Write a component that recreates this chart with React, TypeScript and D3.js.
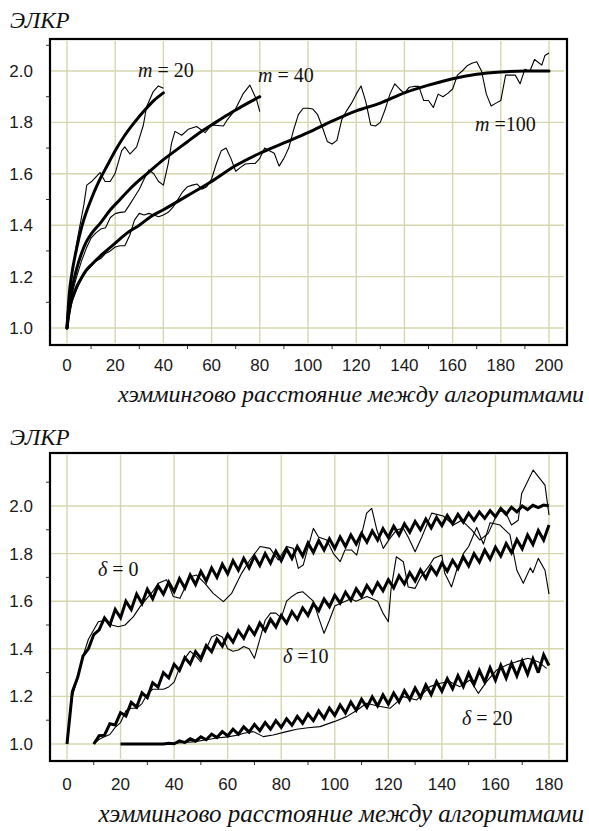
import React from "react";
import * as d3 from "d3";

// ---------- data ----------
const topXTicks = [0, 20, 40, 60, 80, 100, 120, 140, 160, 180, 200];
const botXTicks = [0, 20, 40, 60, 80, 100, 120, 140, 160, 180];
const yTicks = [1.0, 1.2, 1.4, 1.6, 1.8, 2.0];
const yMinor = [1.1, 1.3, 1.5, 1.7, 1.9, 2.1];
const topXMinor = [10, 30, 50, 70, 90, 110, 130, 150, 170, 190];
const botXMinor = [10, 30, 50, 70, 90, 110, 130, 150, 170];

const m20Thin: [number, number][] = [
  [0, 1.0], [1, 1.12], [2, 1.2], [4, 1.33], [6, 1.43], [7, 1.48], [8.2, 1.556], [10.2, 1.57],
  [13.7, 1.605], [15.8, 1.57], [17.9, 1.57], [19.9, 1.6], [22.7, 1.69], [24, 1.705], [26.1, 1.677],
  [28.9, 1.705], [31.7, 1.79], [33, 1.86], [35.8, 1.92], [37.9, 1.942], [40, 1.933],
];
const m20Smooth: [number, number][] = [
  [0, 1.0], [1, 1.14], [2, 1.21], [4, 1.31], [6, 1.39], [8, 1.45], [10, 1.5], [12, 1.545],
  [14, 1.585], [16, 1.62], [18, 1.655], [20, 1.69], [24, 1.75], [28, 1.8], [32, 1.845],
  [36, 1.885], [40, 1.915],
];
const m40Thin: [number, number][] = [
  [0, 1.0], [2, 1.13], [4, 1.2], [6, 1.26], [8, 1.31], [10, 1.35], [12, 1.37], [14, 1.385],
  [16, 1.39], [18, 1.43], [20, 1.445], [22, 1.45], [24, 1.452], [26, 1.48], [28, 1.51],
  [30, 1.54], [32, 1.58], [34, 1.615], [36, 1.6], [38, 1.57], [40, 1.556], [42, 1.64],
  [43.4, 1.72], [44.8, 1.765], [47.6, 1.75], [50.3, 1.773], [53.8, 1.784], [57.3, 1.76],
  [60, 1.79], [64.9, 1.786], [66.5, 1.81], [69.7, 1.848], [73.2, 1.913], [75.9, 1.945],
  [78.7, 1.887], [80, 1.842],
];
const m40Smooth: [number, number][] = [
  [0, 1.0], [1, 1.1], [2, 1.15], [4, 1.23], [6, 1.29], [8, 1.335], [10, 1.365], [14, 1.41],
  [18, 1.46], [22, 1.5], [26, 1.54], [30, 1.575], [35, 1.615], [40, 1.655], [45, 1.69],
  [50, 1.725], [55, 1.76], [60, 1.79], [65, 1.82], [70, 1.848], [75, 1.875], [80, 1.9],
];
const m100Thin: [number, number][] = [
  [0, 1.0], [2, 1.1], [4, 1.15], [6, 1.19], [8, 1.22], [10, 1.24], [12, 1.26], [14, 1.27],
  [16, 1.29], [18, 1.3], [20, 1.315], [22, 1.32], [24, 1.32], [26, 1.36], [28, 1.42],
  [30, 1.446], [32, 1.44], [34, 1.446], [36, 1.44], [38, 1.433], [40, 1.44], [42, 1.45],
  [44, 1.47], [46, 1.5], [48, 1.53], [50, 1.55], [52, 1.556], [54, 1.56], [56, 1.54],
  [58, 1.55], [60, 1.58], [62, 1.64], [64, 1.69], [66, 1.7], [68, 1.66], [70, 1.61],
  [72, 1.625], [74, 1.638], [76, 1.64], [78, 1.64], [80, 1.66], [82, 1.7], [84, 1.69],
  [86, 1.68], [88, 1.63], [90, 1.66], [92, 1.7], [94, 1.77], [96, 1.83], [98, 1.855],
  [100, 1.855], [102, 1.852], [104, 1.83], [106, 1.78], [108, 1.726], [110, 1.716],
  [112, 1.73], [114, 1.81], [116, 1.845], [118, 1.874], [120, 1.91], [122, 1.942],
  [124, 1.88], [126, 1.79], [128, 1.786], [130, 1.8], [132, 1.85], [134, 1.91], [136, 1.95],
  [138, 1.93], [140, 1.913], [142, 1.937], [144, 1.94], [146, 1.94], [148, 1.885],
  [150, 1.885], [152, 1.858], [154, 1.91], [156, 1.9], [158, 1.913], [160, 1.93],
  [162, 1.984], [164, 2.0], [166, 2.02], [168, 2.03], [170, 2.036], [172, 2.0], [174, 1.91],
  [176, 1.864], [178, 1.875], [180, 1.885], [182, 1.984], [184, 1.984], [186, 1.984],
  [188, 1.95], [190, 2.007], [192, 1.998], [194, 2.045], [196, 2.03], [197, 2.023],
  [198.3, 2.06], [200, 2.07],
];
const m100Smooth: [number, number][] = [
  [0, 1.0], [1, 1.07], [2, 1.11], [4, 1.16], [6, 1.195], [8, 1.225], [10, 1.245], [15, 1.29],
  [20, 1.33], [25, 1.37], [30, 1.4], [35, 1.435], [40, 1.46], [50, 1.515], [60, 1.57],
  [70, 1.632], [80, 1.68], [90, 1.72], [100, 1.76], [110, 1.805], [120, 1.845], [130, 1.875],
  [140, 1.915], [150, 1.945], [160, 1.97], [170, 1.987], [180, 1.996], [190, 2.0], [200, 2.0],
];

const d0Thin: [number, number][] = [
  [0, 1.0], [2, 1.2], [4, 1.28], [6, 1.37], [8, 1.44], [10, 1.48], [11.7, 1.514], [14.2, 1.52],
  [16.7, 1.5], [19.2, 1.493], [21.7, 1.5], [24.8, 1.535], [27.3, 1.577], [29.8, 1.612],
  [32, 1.64], [34.1, 1.675], [37.2, 1.69], [39.7, 1.62], [42.2, 1.612], [45.9, 1.703],
  [48.4, 1.71], [51.5, 1.675], [54.6, 1.633], [58.4, 1.598], [61.5, 1.633], [65.2, 1.717],
  [68.3, 1.773], [72.1, 1.83], [75.8, 1.822], [78.9, 1.773], [82, 1.83], [84.5, 1.822],
  [86.4, 1.738], [88.2, 1.752], [92, 1.906], [93.9, 1.87], [97, 1.857], [99.5, 1.8],
  [102, 1.766], [103.8, 1.815], [106.3, 1.815], [108.2, 1.794], [111.9, 1.97], [113.8, 1.99],
  [115.7, 1.9], [118.1, 1.822], [120.6, 1.864], [123.1, 1.9], [125.6, 1.906], [127.4, 1.87],
  [130, 1.808], [132.5, 1.87], [136.2, 1.97], [140.5, 1.958], [144.3, 1.92], [147.4, 1.94],
  [151.1, 1.9], [154.2, 1.857], [157.3, 1.885], [161, 1.976], [163.5, 1.98], [166, 1.92],
  [168.5, 1.94], [169.8, 2.053], [174.1, 2.151], [178.5, 2.088], [180, 1.962],
];
const d10Thin: [number, number][] = [
  [10, 1.0], [12, 1.02], [14, 1.03], [16, 1.04], [18, 1.07], [20, 1.09], [22, 1.14], [24, 1.15],
  [26, 1.15], [28, 1.17], [30, 1.21], [32, 1.23], [34, 1.23], [36, 1.23], [38, 1.24],
  [40, 1.26], [42, 1.32], [44, 1.36], [46, 1.39], [48, 1.37], [50, 1.345], [52, 1.4],
  [54, 1.45], [56, 1.46], [58, 1.45], [60, 1.4], [62, 1.39], [64, 1.395], [66, 1.41],
  [68, 1.4], [70, 1.36], [72, 1.44], [74, 1.52], [76, 1.55], [78, 1.55], [80, 1.53],
  [82, 1.6], [84, 1.62], [86, 1.635], [88, 1.64], [90, 1.62], [92, 1.6], [94, 1.53],
  [96, 1.465], [98, 1.52], [100, 1.58], [102, 1.59], [104, 1.6], [106, 1.61], [108, 1.6],
  [110, 1.61], [112, 1.62], [114, 1.61], [116, 1.6], [118, 1.55], [120, 1.514], [121, 1.65],
  [123, 1.787], [125.6, 1.766], [127.4, 1.66], [130, 1.654], [132, 1.7], [135, 1.745],
  [137, 1.78], [140, 1.794], [141, 1.72], [143.6, 1.66], [145.5, 1.73], [148, 1.8],
  [150, 1.83], [153, 1.91], [155.5, 1.84], [158, 1.93], [161.7, 1.92], [165.4, 1.88],
  [168, 1.73], [170.4, 1.675], [173, 1.74], [174, 1.72], [176, 1.78], [178.5, 1.73], [180, 1.63],
];
const d20Thin: [number, number][] = [
  [20, 1.0], [24, 1.0], [28, 1.0], [32, 1.0], [36, 1.0], [40, 1.003], [44, 1.006], [48, 1.01],
  [52, 1.018], [56, 1.025], [60, 1.03], [64, 1.038], [66, 1.045], [69.6, 1.052], [73.3, 1.031],
  [77, 1.038], [82, 1.052], [85.8, 1.062], [90, 1.068], [94.5, 1.073], [100, 1.095],
  [104.4, 1.115], [108, 1.14], [111.9, 1.171], [116, 1.16], [120.6, 1.15], [125.6, 1.199],
  [130.6, 1.185], [135.5, 1.241], [139.3, 1.255], [143, 1.262], [146.7, 1.241], [150.5, 1.269],
  [153.6, 1.213], [156.7, 1.262], [160.5, 1.311], [164.2, 1.332], [167.9, 1.346], [172.2, 1.36],
  [175.9, 1.346], [179.1, 1.318],
];

const zigStep = 2;
const d0ZigStart = 0;
const d0Zig = [
  1.0, 1.22, 1.28, 1.37, 1.4, 1.46, 1.48, 1.53, 1.5, 1.565,
  1.53, 1.6, 1.565, 1.63, 1.59, 1.65, 1.61, 1.665, 1.63, 1.68,
  1.64, 1.695, 1.655, 1.71, 1.67, 1.725, 1.685, 1.74, 1.7, 1.755,
  1.715, 1.77, 1.73, 1.78, 1.74, 1.79, 1.75, 1.8, 1.76, 1.81,
  1.77, 1.82, 1.78, 1.83, 1.79, 1.845, 1.805, 1.855, 1.815, 1.862,
  1.822, 1.87, 1.83, 1.878, 1.84, 1.885, 1.848, 1.895, 1.857, 1.905,
  1.868, 1.915, 1.878, 1.925, 1.89, 1.935, 1.9, 1.945, 1.908, 1.952,
  1.918, 1.96, 1.925, 1.965, 1.932, 1.97, 1.94, 1.975, 1.948, 1.98,
  1.955, 1.99, 1.965, 1.995, 1.975, 2.0, 1.985, 2.003, 1.993, 2.004,
  2.0,
];
const d10ZigStart = 10;
const d10Zig = [
  1.0, 1.035, 1.037, 1.085, 1.08, 1.132, 1.118, 1.175, 1.155, 1.215,
  1.195, 1.257, 1.239, 1.3, 1.278, 1.335, 1.309, 1.363, 1.336, 1.388,
  1.36, 1.414, 1.388, 1.441, 1.411, 1.46, 1.428, 1.476, 1.444, 1.492,
  1.46, 1.508, 1.476, 1.524, 1.492, 1.54, 1.508, 1.556, 1.524, 1.572,
  1.54, 1.59, 1.56, 1.609, 1.577, 1.625, 1.592, 1.638, 1.604, 1.652,
  1.62, 1.666, 1.633, 1.678, 1.644, 1.69, 1.656, 1.706, 1.672, 1.72,
  1.685, 1.732, 1.696, 1.744, 1.712, 1.76, 1.726, 1.772, 1.737, 1.786,
  1.748, 1.8, 1.764, 1.815, 1.776, 1.827, 1.79, 1.842, 1.804, 1.859,
  1.82, 1.878, 1.838, 1.897, 1.857, 1.92,
];
const d20ZigStart = 20;
const d20Zig = [
  1, 1, 1, 1, 1, 1, 1, 1, 1,
  1.003, 1.001, 1.013, 1.006, 1.022, 1.012, 1.03, 1.018, 1.041, 1.027,
  1.052, 1.034, 1.062, 1.041, 1.072, 1.05, 1.082, 1.056, 1.09, 1.062,
  1.098, 1.07, 1.106, 1.079, 1.116, 1.087, 1.126, 1.098, 1.139, 1.108,
  1.151, 1.12, 1.164, 1.13, 1.176, 1.142, 1.188, 1.154, 1.198, 1.16,
  1.206, 1.168, 1.214, 1.177, 1.224, 1.187, 1.235, 1.196, 1.248, 1.208,
  1.262, 1.222, 1.274, 1.232, 1.287, 1.241, 1.298, 1.25, 1.309, 1.26,
  1.32, 1.268, 1.33, 1.277, 1.339, 1.286, 1.348, 1.293, 1.358, 1.3,
  1.375, 1.33,
];

const yAxisTitle = "ЭЛКР";
const xAxisTitle = "хэммингово расстояние между алгоритмами";

// ---------- drawing ----------
const GRID = "#d6d6ae";
const SANS = "Liberation Sans";
const SERIF = "Liberation Serif";

function zigPairs(start: number, vals: number[]): [number, number][] {
  return vals.map((v, i) => [start + i * zigStep, v]);
}

type Label = { main: string; eq: string; num: string; x: number; y: number };

function Panel(props: {
  frame: [number, number, number, number];
  x: d3.ScaleLinear<number, number>;
  y: d3.ScaleLinear<number, number>;
  xTicks: number[];
  xMinor: number[];
  xLabelY: number;
  thin: [number, number][][];
  thick: [number, number][][];
  zig: [number, number][][];
  labels: Label[];
  titleY: number;
  titleSize: number;
  yTitleY: number;
}) {
  const { frame, x, y } = props;
  const [L, T, R, B] = frame;
  const lin = d3.line<[number, number]>().x(d => x(d[0])).y(d => y(d[1]));
  const smooth = d3
    .line<[number, number]>()
    .x(d => x(d[0]))
    .y(d => y(d[1]))
    .curve(d3.curveMonotoneX);
  const serif = { fontFamily: SERIF };
  const sans = { fontFamily: SANS };
  return (
    <g>
      <text x={10} y={props.yTitleY} style={serif} fontStyle="italic" fontSize={23} fill="#111">
        {yAxisTitle}
      </text>
      {props.xTicks.map(t => (
        <line key={"gx" + t} x1={x(t)} x2={x(t)} y1={T + 2} y2={B - 2} stroke={GRID} strokeWidth={1.4} />
      ))}
      {yTicks.map(t => (
        <line key={"gy" + t} x1={L + 1} x2={R - 3} y1={y(t)} y2={y(t)} stroke={GRID} strokeWidth={1.4} />
      ))}
      {yMinor.map(t =>
        y(t) > T + 2 ? (
          <line key={"my" + t} x1={L - 4} x2={L - 1} y1={y(t)} y2={y(t)} stroke="#333" strokeWidth={1} />
        ) : null
      )}
      {props.xMinor.map(t => (
        <line key={"mx" + t} x1={x(t)} x2={x(t)} y1={B + 1} y2={B + 4} stroke="#333" strokeWidth={1} />
      ))}
      {yTicks.map(t => (
        <text key={"ly" + t} x={33} y={y(t) + 6} textAnchor="end" style={sans} fontSize={17} fill="#1a1a1a">
          {t.toFixed(1)}
        </text>
      ))}
      {props.xTicks.map(t => (
        <text key={"lx" + t} x={x(t)} y={props.xLabelY} textAnchor="middle" style={sans} fontSize={17} fill="#1a1a1a">
          {t}
        </text>
      ))}
      {props.thin.map((d, i) => (
        <path key={"t" + i} d={lin(d) || ""} fill="none" stroke="#000" strokeWidth={1.1} strokeLinejoin="round" />
      ))}
      {props.thick.map((d, i) => (
        <path key={"k" + i} d={smooth(d) || ""} fill="none" stroke="#000" strokeWidth={3} strokeLinejoin="round" strokeLinecap="round" />
      ))}
      {props.zig.map((d, i) => (
        <path key={"z" + i} d={lin(d) || ""} fill="none" stroke="#000" strokeWidth={3} strokeLinejoin="miter" strokeMiterlimit={3} />
      ))}
      <rect x={L} y={T} width={R - L} height={B - T} fill="none" stroke="#000" strokeWidth={2.2} />
      {props.labels.map((lb, i) => (
        <text key={"lab" + i} x={lb.x} y={lb.y} style={serif} fontSize={20} fill="#111">
          <tspan fontStyle="italic">{lb.main}</tspan>
          <tspan dx={lb.eq.startsWith(" ") ? 0 : 3}>{lb.eq}</tspan>
          <tspan>{lb.num}</tspan>
        </text>
      ))}
      <text x={584} y={props.titleY} textAnchor="end" style={serif} fontStyle="italic" fontSize={props.titleSize} fill="#111">
        {xAxisTitle}
      </text>
    </g>
  );
}

export default function App() {
  const xTop = d3.scaleLinear().domain([0, 200]).range([67, 549]);
  const yTop = d3.scaleLinear().domain([1, 2]).range([328, 71]);
  const xBot = d3.scaleLinear().domain([0, 180]).range([67, 549]);
  const yBot = d3.scaleLinear().domain([1, 2]).range([744, 506]);
  return (
    <div style={{ position: "absolute", left: 0, top: 0 }}>
      <svg width={589} height={831} style={{ display: "block", background: "#fff" }}>
        <Panel
          frame={[50, 39, 567, 345]}
          x={xTop}
          y={yTop}
          xTicks={topXTicks}
          xMinor={topXMinor}
          xLabelY={371}
          thin={[m20Thin, m40Thin, m100Thin]}
          thick={[m20Smooth, m40Smooth, m100Smooth]}
          zig={[]}
          labels={[
            { main: "m", eq: " = ", num: "20", x: 138, y: 77 },
            { main: "m", eq: " = ", num: "40", x: 258, y: 82 },
            { main: "m", eq: " =", num: "100", x: 475, y: 131 },
          ]}
          titleY={402}
          titleSize={24}
          yTitleY={28}
        />
        <Panel
          frame={[50, 453, 567, 761]}
          x={xBot}
          y={yBot}
          xTicks={botXTicks}
          xMinor={botXMinor}
          xLabelY={790}
          thin={[d0Thin, d10Thin, d20Thin]}
          thick={[]}
          zig={[zigPairs(d0ZigStart, d0Zig), zigPairs(d10ZigStart, d10Zig), zigPairs(d20ZigStart, d20Zig)]}
          labels={[
            { main: "δ", eq: " = ", num: "0", x: 98, y: 576 },
            { main: "δ", eq: " =", num: "10", x: 283, y: 663 },
            { main: "δ", eq: " = ", num: "20", x: 462, y: 725 },
          ]}
          titleY={822}
          titleSize={25}
          yTitleY={445}
        />
      </svg>
    </div>
  );
}
